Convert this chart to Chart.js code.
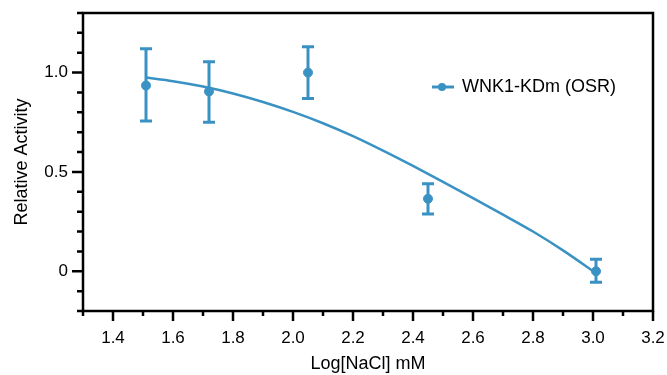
<!DOCTYPE html>
<html>
<head>
<meta charset="utf-8">
<script src="https://cdn.jsdelivr.net/npm/chart.js@4.4.1/dist/chart.umd.min.js"></script>
<style>
  html, body { margin: 0; padding: 0; background: #fff; }
  #wrap { width: 667px; height: 375px; }
</style>
</head>
<body>
<div id="wrap"><canvas id="myChart" width="667" height="375"></canvas></div>
<script>
// measured points (mean + error bar ends)
const logNaCl = [1.51, 1.72, 2.05, 2.45, 3.01];
const activity = [0.935, 0.905, 1.0, 0.365, 0.0];
const errHigh = [1.12, 1.055, 1.13, 0.44, 0.06];
const errLow = [0.757, 0.75, 0.87, 0.288, -0.055];

// fitted curve
const fitX = [1.51, 1.6, 1.7, 1.8, 1.9, 2.0, 2.1, 2.2, 2.3, 2.4, 2.5, 2.6, 2.7, 2.8, 2.9, 3.01];
const fitY = [0.975, 0.957, 0.93, 0.895, 0.852, 0.802, 0.745, 0.68, 0.607, 0.53, 0.45, 0.368, 0.285, 0.2, 0.105, -0.01];

const seriesName = 'WNK1-KDm (OSR)';
const blue = '#3a92c4';
const fontFamily = '"Liberation Sans", Arial, Helvetica, sans-serif';

const ctx = document.getElementById('myChart').getContext('2d');

const framePlugin = {
  id: 'frame',
  afterDatasetsDraw(chart) {
    const c = chart.ctx;
    const xs = chart.scales.x, ys = chart.scales.y;

    // error bars
    c.save();
    c.strokeStyle = blue;
    c.lineWidth = 3;
    for (let i = 0; i < logNaCl.length; i++) {
      const px = xs.getPixelForValue(logNaCl[i]);
      const top = ys.getPixelForValue(errHigh[i]);
      const bot = ys.getPixelForValue(errLow[i]);
      c.beginPath();
      c.moveTo(px, top); c.lineTo(px, bot);
      c.moveTo(px - 6, top); c.lineTo(px + 6, top);
      c.moveTo(px - 6, bot); c.lineTo(px + 6, bot);
      c.stroke();
    }
    c.restore();
  },
  afterDraw(chart) {
    const c = chart.ctx;
    const xs = chart.scales.x, ys = chart.scales.y;
    const area = chart.chartArea;
    c.save();
    c.strokeStyle = '#000';
    c.lineWidth = 2.5;
    c.strokeRect(area.left, area.top, area.right - area.left, area.bottom - area.top);

    // tick marks, outward
    c.beginPath();
    xs.ticks.forEach(t => {
      const v = Math.round(t.value * 10);
      const len = v % 2 === 0 ? 10 : 5;
      const px = xs.getPixelForValue(t.value);
      c.moveTo(px, area.bottom); c.lineTo(px, area.bottom + len);
    });
    ys.ticks.forEach(t => {
      const v = Math.round(t.value * 10);
      const len = v % 5 === 0 ? 11 : 6;
      const py = ys.getPixelForValue(t.value);
      c.moveTo(area.left, py); c.lineTo(area.left - len, py);
    });
    c.stroke();

    // legend inside the plot
    const lx = 432, ly = 87;
    c.strokeStyle = blue;
    c.lineWidth = 3;
    c.beginPath();
    c.moveTo(lx, ly); c.lineTo(lx + 22, ly);
    c.stroke();
    c.fillStyle = blue;
    c.beginPath();
    c.arc(lx + 10, ly, 4, 0, Math.PI * 2);
    c.fill();
    c.fillStyle = '#000';
    c.font = '18px ' + fontFamily;
    c.textAlign = 'left';
    c.textBaseline = 'middle';
    c.fillText(seriesName, lx + 30, ly);
    c.restore();
  }
};

new Chart(ctx, {
  type: 'scatter',
  data: {
    datasets: [{
      label: 'fit',
      data: fitX.map((x, i) => ({ x: x, y: fitY[i] })),
      showLine: true,
      borderColor: blue,
      borderWidth: 2.5,
      pointRadius: 0,
      cubicInterpolationMode: 'monotone',
      fill: false
    }, {
      label: seriesName,
      data: logNaCl.map((x, i) => ({ x: x, y: activity[i] })),
      backgroundColor: blue,
      borderColor: blue,
      pointRadius: 4.5,
      pointHoverRadius: 4.5,
      showLine: false
    }]
  },
  options: {
    responsive: false,
    animation: false,
    events: [],
    layout: { padding: { top: 13, right: 14, left: 0, bottom: 0 } },
    plugins: {
      legend: { display: false },
      tooltip: { enabled: false }
    },
    scales: {
      x: {
        type: 'linear',
        min: 1.3,
        max: 3.2,
        grid: { display: false, drawTicks: false },
        border: { display: false },
        afterFit(scale) {
          scale.height = 64;
          scale.paddingLeft = 0;
          scale.paddingRight = 0;
        },
        ticks: {
          stepSize: 0.1,
          autoSkip: false,
          maxRotation: 0,
          padding: 17,
          color: '#000',
          font: { family: fontFamily, size: 17 },
          callback(value) {
            const v = Math.round(value * 10);
            return v % 2 === 0 ? (v / 10).toFixed(1) : '';
          }
        },
        title: {
          display: true,
          text: 'Log[NaCl] mM',
          color: '#000',
          font: { family: fontFamily, size: 18 },
          padding: { top: 0, bottom: 0 }
        }
      },
      y: {
        min: -0.2,
        max: 1.3,
        grid: { display: false, drawTicks: false },
        border: { display: false },
        afterFit(scale) {
          scale.width = 83;
          scale.paddingTop = 0;
          scale.paddingBottom = 0;
        },
        ticks: {
          stepSize: 0.1,
          autoSkip: false,
          padding: 15,
          color: '#000',
          font: { family: fontFamily, size: 17 },
          callback(value) {
            const v = Math.round(value * 10);
            if (v === 0) return '0';
            if (v === 5) return '0.5';
            if (v === 10) return '1.0';
            return '';
          }
        },
        title: {
          display: true,
          text: 'Relative Activity',
          color: '#000',
          font: { family: fontFamily, size: 18 },
          padding: { top: 11, bottom: 0 }
        }
      }
    }
  },
  plugins: [framePlugin]
});
</script>
</body>
</html>
